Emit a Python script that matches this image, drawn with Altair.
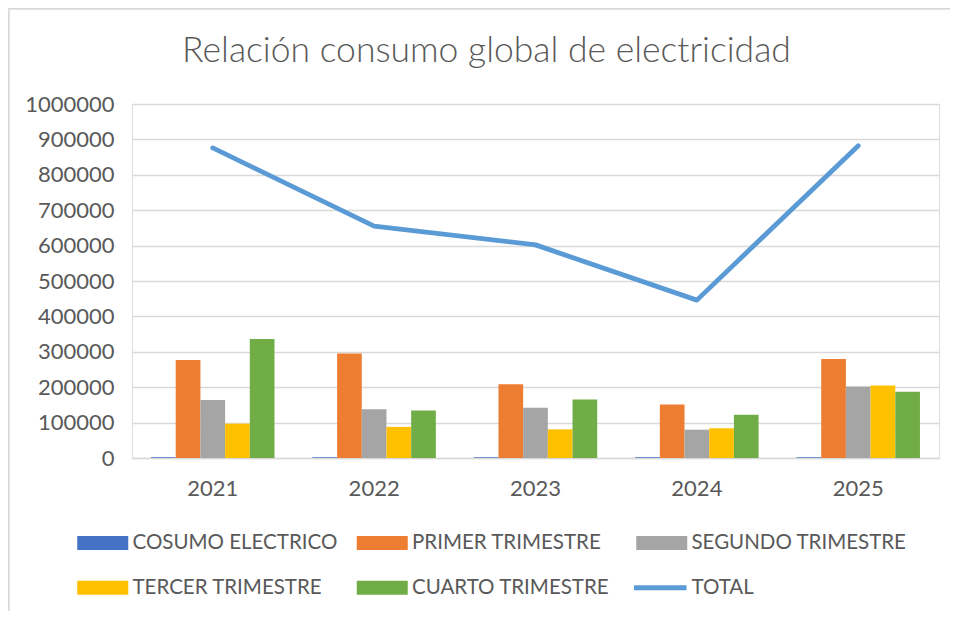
import altair as alt
import pandas as pd

years = ["2021", "2022", "2023", "2024", "2025"]
series = ["COSUMO ELECTRICO", "PRIMER TRIMESTRE", "SEGUNDO TRIMESTRE",
          "TERCER TRIMESTRE", "CUARTO TRIMESTRE"]
cosumo = [2021, 2022, 2023, 2024, 2025]
primer = [277000, 295000, 208000, 151000, 280000]
segundo = [164000, 138000, 142000, 80000, 202000]
tercer = [97000, 88000, 81000, 84000, 205000]
cuarto = [336000, 134000, 165000, 122000, 187000]
total = [876000, 655000, 602000, 446000, 882000]
title_text = "Relación consumo global de electricidad"

bar_colors = ["#4472C4", "#ED7D31", "#A5A5A5", "#FFC000", "#70AD47"]
line_color = "#5B9BD5"

rows = []
for name, vals in zip(series, [cosumo, primer, segundo, tercer, cuarto]):
    for y, v in zip(years, vals):
        rows.append({"year": y, "serie": name, "valor": v})
bars_df = pd.DataFrame(rows)
total_df = pd.DataFrame({"year": years, "serie": "TOTAL", "valor": total})

TXT = "#595959"
GRID = "#D9D9D9"

rect_path = "M-3.643,-1H3.643V1H-3.643Z"
line_path = "M-3.75,0H3.75"

x_scale = alt.Scale(domain=years, paddingInner=0.235, paddingOuter=0.118)
y_scale = alt.Scale(domain=[0, 1000000])

fill_legend = alt.Legend(
    title=None, orient="none", legendX=-39.5, legendY=428.5, columns=3,
    direction="horizontal",
    gridAlign="all", columnPadding=7.5, rowPadding=24, padding=0,
    symbolType=rect_path, symbolSize=196, symbolStrokeWidth=0,
    labelFont="Lato", labelFontSize=20.5, labelColor=TXT, labelOffset=19.5,
    labelLimit=400, symbolOpacity=1,
)
stroke_legend = alt.Legend(
    title=None, orient="none", legendX=518, legendY=473.5, padding=0,
    symbolType=line_path, symbolSize=196, symbolStrokeWidth=5,
    labelFont="Lato", labelFontSize=20.5, labelColor=TXT, labelOffset=21,
    labelLimit=400, symbolOpacity=1,
)

x_axis = alt.Axis(title=None, labelFont="Lato", labelFontSize=22, labelColor=TXT,
                  labelPadding=20, ticks=False, domainColor=GRID, domainWidth=1.5,
                  labelAngle=0)
y_axis = alt.Axis(title=None, labelFont="Lato", labelFontSize=22, labelColor=TXT,
                  labelPadding=18, ticks=False, domain=False, gridColor=GRID,
                  gridWidth=1.5, values=list(range(0, 1000001, 100000)), format="d",
                  labelOverlap=False)

bars = alt.Chart(bars_df).mark_bar().encode(
    x=alt.X("year:N", scale=x_scale, axis=x_axis, sort=years),
    xOffset=alt.XOffset("serie:N", sort=series,
                        scale=alt.Scale(domain=series, paddingInner=0, paddingOuter=0)),
    y=alt.Y("valor:Q", scale=y_scale, axis=y_axis),
    fill=alt.Fill("serie:N", scale=alt.Scale(domain=series, range=bar_colors),
                  legend=fill_legend, sort=series),
)

line = alt.Chart(total_df).mark_line(strokeWidth=4.8, strokeCap="round",
                                     strokeJoin="round").encode(
    x=alt.X("year:N", scale=x_scale, axis=x_axis, sort=years),
    y=alt.Y("valor:Q", scale=y_scale, axis=y_axis),
    stroke=alt.Stroke("serie:N", scale=alt.Scale(domain=["TOTAL"], range=[line_color]),
                      legend=stroke_legend),
)

title = alt.Chart(pd.DataFrame({"t": [title_text]})).mark_text(
    font="Lato", fontSize=35.5, fontWeight=300, color=TXT, align="center",
    baseline="alphabetic").encode(
    text="t:N", x=alt.value(354.5), y=alt.value(-42))

frame_top = alt.Chart(total_df).mark_rule(color=GRID, strokeWidth=1.5).encode(
    x=alt.value(-123), x2=alt.value(830), y=alt.value(-95.5))
frame_left = alt.Chart(total_df).mark_rule(color=GRID, strokeWidth=1.5).encode(
    x=alt.value(-123.5), y=alt.value(-96), y2=alt.value(515))

chart = alt.layer(frame_top, frame_left, bars, line, title).properties(
    width=807, height=354,
    autosize=alt.AutoSizeParams(type="none"),
    padding={"left": 124, "top": 96, "right": 11, "bottom": 153},
).configure_view(stroke=None).configure(background="white")

chart.save("out.html", embed_options={"renderer": "svg", "actions": False})
